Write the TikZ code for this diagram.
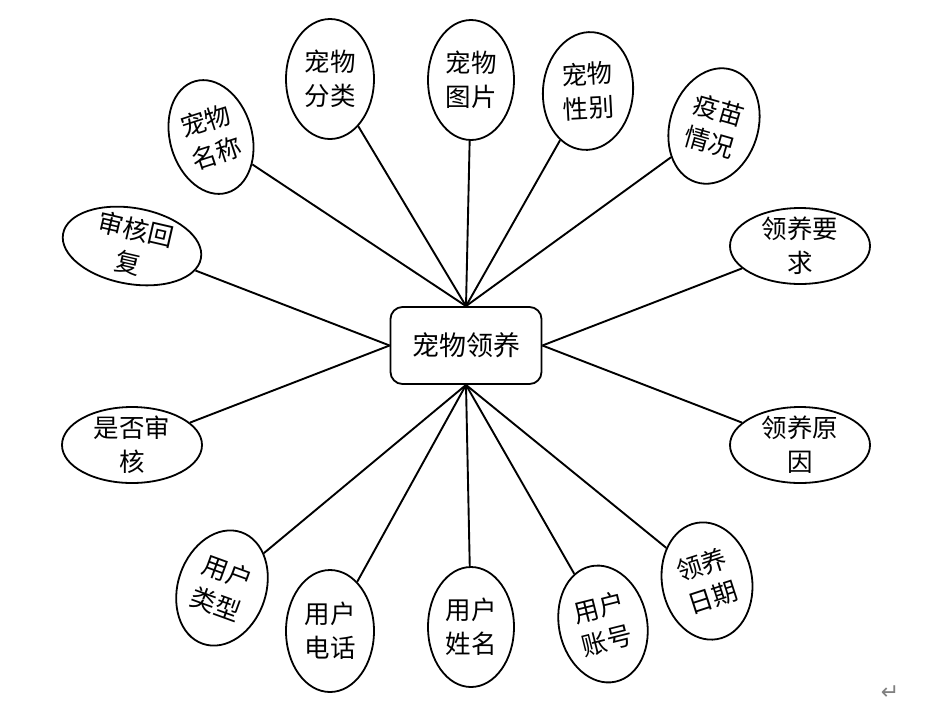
\documentclass[tikz,border=0pt]{standalone}
\usepackage{fontspec}
\newfontfamily\cjk{Noto Sans CJK SC}
\newfontfamily\symfont{DejaVu Sans}
\usetikzlibrary{shapes.geometric}
\tikzset{
  ell/.style={draw, ellipse, line width=1.8pt, inner sep=0pt, fill=white},
  txt/.style={inner sep=0pt, align=center, font=\cjk\fontsize{25.5}{34}\selectfont},
  hub/.style={draw, rounded corners=12pt, line width=1.8pt, minimum width=151pt, minimum height=77pt, font=\cjk\fontsize{27}{30}\selectfont, fill=white},
  link/.style={line width=1.9pt},
}
\begin{document}
\begin{tikzpicture}[x=1pt,y=-1pt]
\useasboundingbox (0,0) rectangle (939,705);
% ellipses
\node[ell, minimum width=82, minimum height=116, rotate=16] (e1) at (211,137) {};
\node[txt, rotate=18] (t1) at (e1) {宠物\\名称};
\node[ell, minimum width=88, minimum height=120] (e2) at (330,79) {};
\node[txt] (t2) at (e2) {宠物\\分类};
\node[ell, minimum width=86, minimum height=120] (e3) at (471,80) {};
\node[txt] (t3) at (e3) {宠物\\图片};
\node[ell, minimum width=90, minimum height=118, rotate=-5] (e4) at (588,91) {};
\node[txt, rotate=3] (t4) at (e4) {宠物\\性别};
\node[ell, minimum width=88, minimum height=118, rotate=-18] (e5) at (714,126) {};
\node[txt, rotate=-16] (t5) at (e5) {疫苗\\情况};
\node[ell, minimum width=140, minimum height=76] (e6) at (800,246) {};
\node[txt] (t6) at (e6) {领养要\\求};
\node[ell, minimum width=140, minimum height=76] (e7) at (800,445) {};
\node[txt] (t7) at (e7) {领养原\\因};
\node[ell, minimum width=90, minimum height=118, rotate=10] (e8) at (707,581) {};
\node[txt, rotate=18] (t8) at (e8) {领养\\日期};
\node[ell, minimum width=88, minimum height=118, rotate=12] (e9) at (603,624) {};
\node[txt, rotate=14] (t9) at (e9) {用户\\账号};
\node[ell, minimum width=86, minimum height=120] (e10) at (471,627) {};
\node[txt] (t10) at (e10) {用户\\姓名};
\node[ell, minimum width=88, minimum height=122] (e11) at (330,631) {};
\node[txt] (t11) at (e11) {用户\\电话};
\node[ell, minimum width=88, minimum height=118, rotate=-19] (e12) at (222,588) {};
\node[txt, rotate=-20] (t12) at (e12) {用户\\类型};
\node[ell, minimum width=140, minimum height=76] (e13) at (132,445) {};
\node[txt] (t13) at (e13) {是否审\\核};
\node[ell, minimum width=140, minimum height=76, rotate=-10] (e14) at (132,246) {};
\node[txt, rotate=-13] (t14) at (e14) {审核回\\复};
% hub
\node[hub] (c) at (466,345.5) {宠物领养};
% connectors
\foreach \e in {e1,e2,e3,e4,e5} \draw[link] (\e) -- (c.north);
\foreach \e in {e8,e9,e10,e11,e12} \draw[link] (\e) -- (c.south);
\draw[link] (e13) -- (c.west);
\draw[link] (e14) -- (c.west);
\draw[link] (e6) -- (c.east);
\draw[link] (e7) -- (c.east);
% paragraph mark
\node[text=gray, font=\symfont\fontsize{22}{22}\selectfont, inner sep=0pt] (pm) at (890,693) {↵};
\end{tikzpicture}
\end{document}
